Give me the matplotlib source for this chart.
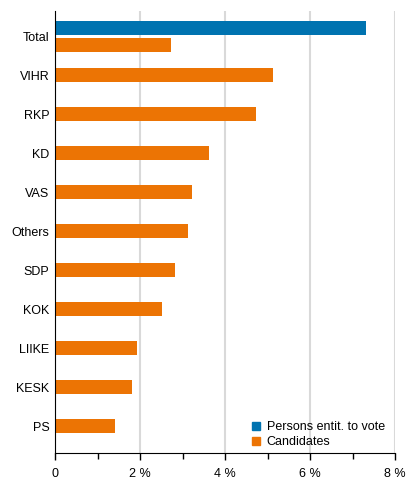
import matplotlib.pyplot as plt
from matplotlib.lines import Line2D
from matplotlib.ticker import FixedLocator, FuncFormatter

plt.rcParams['font.family'] = ['Liberation Sans', 'DejaVu Sans']

categories = ['Total', 'VIHR', 'RKP', 'KD', 'VAS', 'Others', 'SDP', 'KOK', 'LIIKE', 'KESK', 'PS']
candidates = [2.72, 5.12, 4.72, 3.62, 3.22, 3.12, 2.82, 2.52, 1.92, 1.82, 1.42]
persons_total = 7.32
series_names = ['Persons entit. to vote', 'Candidates']
x_ticks = [0, 2, 4, 6, 8]

blue = '#0073b0'
orange = '#ec7404'

fig = plt.figure(figsize=(4.16, 4.91), dpi=100)
ax = fig.add_axes([55 / 416, 1 - 453 / 491, 340 / 416, 442 / 491])

ypos = list(range(len(categories)))
h = 0.36
off = 0.22
cand_y = [y + off if i == 0 else y for i, y in enumerate(ypos)]
ax.barh(ypos[0] - off, persons_total, height=h, color=blue, zorder=3)
ax.barh(cand_y, candidates, height=h, color=orange, zorder=3)

ax.set_ylim(10.68, -0.65)
ax.set_xlim(0, 8)
ax.set_yticks(ypos)
ax.set_yticklabels(categories)
ax.tick_params(axis='y', length=0, pad=4, labelsize=9)

ax.xaxis.set_major_locator(FixedLocator(x_ticks))
ax.xaxis.set_minor_locator(FixedLocator([1, 3, 5, 7]))
ax.xaxis.set_major_formatter(FuncFormatter(lambda v, p: '0' if v == 0 else f'{v:g} %'))
ax.tick_params(axis='x', which='major', length=5, width=1, labelsize=9, pad=6)
ax.tick_params(axis='x', which='minor', length=4, width=1)

ax.grid(axis='x', color='#d9d9d9', linewidth=1.5, zorder=0)
for s in ['top', 'right']:
    ax.spines[s].set_visible(False)
ax.spines['left'].set_color('black')
ax.spines['bottom'].set_color('black')
ax.spines['left'].set_zorder(4)

handles = [Line2D([], [], marker='s', linestyle='none', color=blue, markersize=6),
           Line2D([], [], marker='s', linestyle='none', color=orange, markersize=6)]
ax.legend(handles, series_names, loc='lower right', bbox_to_anchor=(0.985, 0.0),
          frameon=False, fontsize=9, handletextpad=0.4, labelspacing=0.2,
          handlelength=1.0, borderaxespad=0.0)

fig.savefig('out.png', dpi=100)
